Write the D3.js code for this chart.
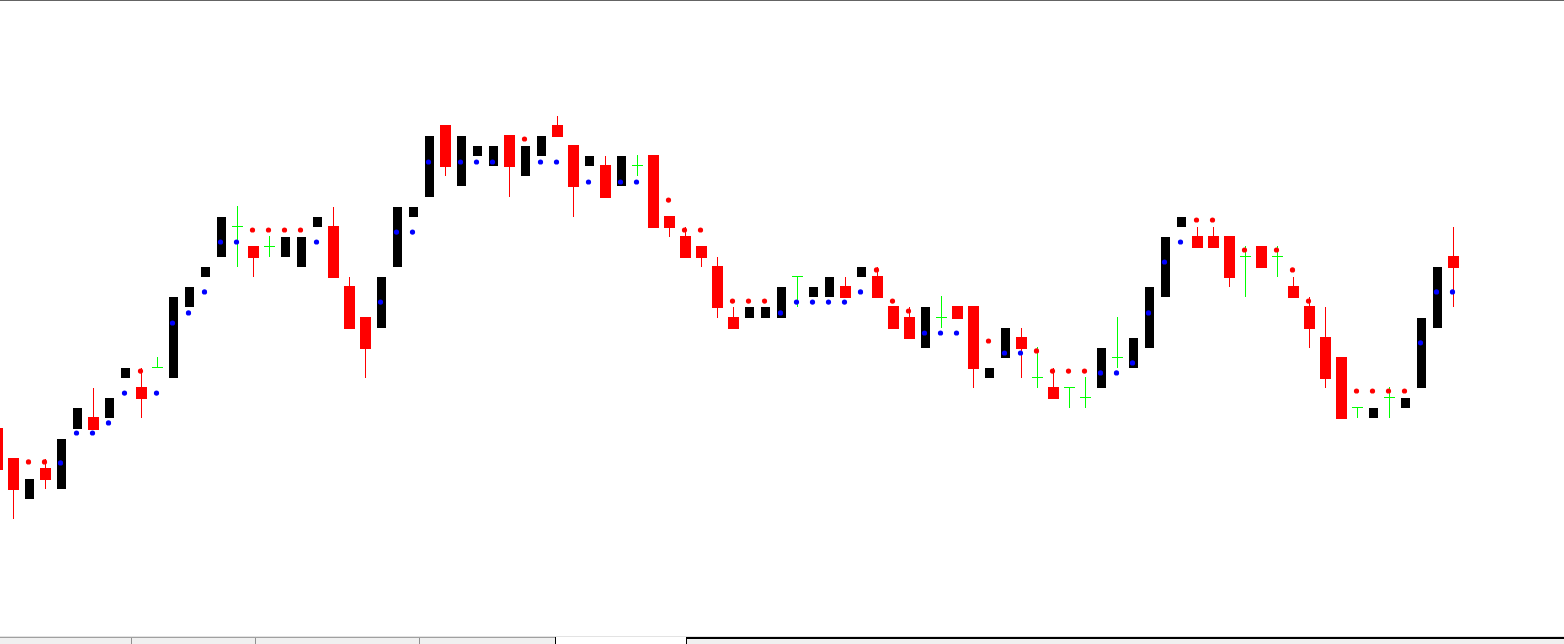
<!DOCTYPE html>
<html>
<head>
<meta charset="utf-8">
<script src="https://cdn.jsdelivr.net/npm/d3@7"></script>
<style>
  html, body { margin: 0; padding: 0; background: #ffffff; }
  svg { display: block; }
</style>
</head>
<body>
<svg id="chart" width="1564" height="644"></svg>
<script>
// ---- data (bar index, OHLC prices) ----
const barIndex = d3.range(-1, 91);
const open = [
  1.110,1.107,1.103,1.106,1.104,1.110,1.111,1.111,1.115,1.114,
  1.116,1.115,1.122,1.125,1.127,1.130,1.128,1.128,1.127,1.126,
  1.130,1.130,1.124,1.121,1.120,1.126,1.131,1.133,1.140,1.134,
  1.137,1.136,1.139,1.135,1.137,1.140,1.138,1.136,1.136,1.134,
  1.136,1.137,1.131,1.129,1.128,1.126,1.121,1.121,1.121,1.121,
  1.125,1.123,1.123,1.124,1.125,1.125,1.122,1.121,1.118,1.121,
  1.122,1.122,1.115,1.117,1.119,1.115,1.114,1.114,1.113,1.114,
  1.117,1.116,1.118,1.123,1.130,1.129,1.129,1.129,1.127,1.128,
  1.127,1.124,1.122,1.119,1.117,1.112,1.111,1.113,1.112,1.114,
  1.120,1.127
];
const high = [
  1.110,1.107,1.105,1.107,1.109,1.112,1.114,1.113,1.116,1.116,
  1.117,1.123,1.124,1.126,1.131,1.132,1.128,1.129,1.129,1.129,
  1.131,1.132,1.125,1.121,1.125,1.132,1.132,1.139,1.140,1.139,
  1.138,1.138,1.139,1.138,1.139,1.141,1.138,1.137,1.137,1.137,
  1.137,1.137,1.131,1.130,1.128,1.127,1.122,1.122,1.122,1.124,
  1.125,1.124,1.125,1.125,1.126,1.126,1.122,1.122,1.122,1.123,
  1.122,1.122,1.116,1.120,1.120,1.118,1.116,1.114,1.115,1.118,
  1.121,1.119,1.124,1.129,1.131,1.130,1.130,1.129,1.128,1.128,
  1.128,1.125,1.123,1.122,1.117,1.112,1.112,1.114,1.113,1.121,
  1.126,1.130
];
const low = [
  1.106,1.101,1.103,1.104,1.104,1.110,1.110,1.111,1.115,1.111,
  1.116,1.115,1.122,1.125,1.127,1.126,1.125,1.127,1.127,1.126,
  1.130,1.125,1.120,1.115,1.120,1.126,1.131,1.133,1.135,1.134,
  1.137,1.136,1.133,1.135,1.137,1.139,1.131,1.136,1.133,1.134,
  1.135,1.130,1.129,1.127,1.126,1.121,1.120,1.121,1.121,1.121,
  1.122,1.123,1.123,1.123,1.125,1.123,1.120,1.119,1.118,1.120,
  1.121,1.114,1.115,1.117,1.115,1.114,1.113,1.112,1.112,1.114,
  1.116,1.116,1.118,1.123,1.130,1.128,1.128,1.124,1.123,1.126,
  1.125,1.123,1.118,1.114,1.111,1.111,1.111,1.111,1.112,1.114,
  1.120,1.122
];
const close = [
  1.106,1.104,1.105,1.105,1.109,1.112,1.110,1.113,1.116,1.113,
  1.116,1.123,1.124,1.126,1.131,1.130,1.127,1.128,1.129,1.129,
  1.131,1.125,1.120,1.118,1.125,1.132,1.132,1.139,1.136,1.139,
  1.138,1.138,1.136,1.138,1.139,1.139,1.134,1.137,1.133,1.137,
  1.136,1.130,1.130,1.127,1.127,1.122,1.120,1.122,1.122,1.124,
  1.125,1.124,1.125,1.123,1.126,1.123,1.120,1.119,1.122,1.121,
  1.121,1.116,1.116,1.120,1.118,1.115,1.113,1.114,1.113,1.118,
  1.117,1.119,1.124,1.129,1.131,1.128,1.128,1.125,1.127,1.126,
  1.127,1.123,1.120,1.115,1.111,1.112,1.112,1.113,1.113,1.121,
  1.126,1.126
];
// indicator dots: [bar index, price]
const redDots = [
  [1,1.10669],[2,1.10669],[8,1.11570],[15,1.12968],[16,1.12968],[17,1.12968],[18,1.12968],
  [32,1.13870],[41,1.13265],[42,1.12968],[43,1.12968],[45,1.12264],[46,1.12264],[47,1.12264],
  [54,1.12572],[55,1.12264],[56,1.12165],[61,1.11868],[64,1.11769],[65,1.11570],[66,1.11570],
  [67,1.11570],[74,1.13067],[75,1.13067],[77,1.12770],[79,1.12770],[80,1.12572],[81,1.12264],
  [84,1.11372],[85,1.11372],[86,1.11372],[87,1.11372]
];
const blueDots = [
  [3,1.10659],[4,1.10956],[5,1.10956],[6,1.11056],[7,1.11352],[9,1.11352],[10,1.12046],
  [11,1.12146],[12,1.12354],[13,1.12849],[14,1.12849],[19,1.12849],[23,1.12254],[24,1.12948],
  [25,1.12948],[26,1.13642],[28,1.13642],[29,1.13642],[30,1.13642],[33,1.13642],[34,1.13642],
  [36,1.13444],[38,1.13444],[39,1.13444],[48,1.12146],[49,1.12254],[50,1.12254],[51,1.12254],
  [52,1.12254],[53,1.12354],[57,1.11947],[58,1.11947],[59,1.11947],[62,1.11749],[63,1.11749],
  [68,1.11551],[69,1.11551],[70,1.11650],[71,1.12146],[72,1.12651],[73,1.12849],[88,1.11850],
  [89,1.12354],[90,1.12354]
];
const tabSeparators = [131, 255, 419];

// ---- drawing ----
const W = 1564, H = 644;
const svg = d3.select("#chart");
const bars = barIndex.map((b, k) => ({b, o: open[k], h: high[k], l: low[k], c: close[k]}));

const x = d3.scaleBand().domain(barIndex).range([-10.5, -10.5 + barIndex.length * 16]);
const cx = b => x(b) + x.bandwidth() / 2;
const y = d3.scaleLinear().domain([1.140, 1.100]).range([125.9, 125.9 + 403.52]);
const ry = v => Math.round(y(v));

svg.append("rect").attr("width", W).attr("height", H).attr("fill", "#ffffff");
svg.append("rect").attr("x", 0).attr("y", 0).attr("width", W).attr("height", 1).attr("fill", "#646464");

const g = svg.append("g");
const EPS = 1e-9;
const isDoji = d => Math.abs(d.o - d.c) < EPS;
const isBear = d => d.c < d.o - EPS;
const isBull = d => d.c > d.o + EPS;

// wicks for bearish bars (red)
g.selectAll("line.wick").data(bars.filter(isBear)).join("line")
  .attr("class", "wick")
  .attr("x1", d => cx(d.b)).attr("x2", d => cx(d.b))
  .attr("y1", d => ry(d.h)).attr("y2", d => ry(d.l))
  .attr("stroke", "#ff0000").attr("stroke-width", 1);

// bearish bodies
g.selectAll("rect.bear").data(bars.filter(isBear)).join("rect")
  .attr("class", "bear")
  .attr("x", d => cx(d.b) - 5)
  .attr("width", 10)
  .attr("y", d => ry(d.o) - 0.5)
  .attr("height", d => ry(d.c) - ry(d.o) + 1)
  .attr("fill", "#ff0000").attr("stroke", "#ff0000").attr("stroke-width", 1);

// bullish bodies
g.selectAll("rect.bull").data(bars.filter(isBull)).join("rect")
  .attr("class", "bull")
  .attr("x", d => cx(d.b) - 4.5)
  .attr("width", 9)
  .attr("y", d => ry(d.c))
  .attr("height", d => ry(d.o) - ry(d.c))
  .attr("fill", "#000000");

// doji
const doji = bars.filter(isDoji);
g.selectAll("line.dv").data(doji).join("line")
  .attr("class", "dv")
  .attr("x1", d => cx(d.b)).attr("x2", d => cx(d.b))
  .attr("y1", d => ry(d.h) - 1).attr("y2", d => ry(d.l))
  .attr("stroke", "#00ff00").attr("stroke-width", 1);
g.selectAll("line.dh").data(doji).join("line")
  .attr("class", "dh")
  .attr("x1", d => cx(d.b) - 5.5).attr("x2", d => cx(d.b) + 5.5)
  .attr("y1", d => ry(d.o) - 0.5).attr("y2", d => ry(d.o) - 0.5)
  .attr("stroke", "#00ff00").attr("stroke-width", 1);

// indicator dots
g.selectAll("circle.rd").data(redDots).join("circle")
  .attr("class", "rd")
  .attr("cx", d => cx(d[0]) - 1).attr("cy", d => y(d[1]))
  .attr("r", 2.6).attr("fill", "#ff0000");
g.selectAll("circle.bd").data(blueDots).join("circle")
  .attr("class", "bd")
  .attr("cx", d => cx(d[0]) - 1).attr("cy", d => y(d[1]))
  .attr("r", 2.6).attr("fill", "#0000ff");

// bottom tab strip
const strip = svg.append("g");
strip.append("rect").attr("x", 0).attr("y", 636).attr("width", W).attr("height", 1).attr("fill", "#e3e3e3");
strip.append("rect").attr("x", 0).attr("y", 638).attr("width", 555).attr("height", 6).attr("fill", "#f0f0f0");
strip.append("rect").attr("x", 0).attr("y", 637).attr("width", 555).attr("height", 1).attr("fill", "#a0a0a0");
strip.selectAll("rect.sep").data(tabSeparators).join("rect")
  .attr("class", "sep").attr("x", d => d).attr("y", 638).attr("width", 1).attr("height", 6).attr("fill", "#909090");
strip.append("rect").attr("x", 555).attr("y", 637).attr("width", 1).attr("height", 7).attr("fill", "#000000");
strip.append("rect").attr("x", 686).attr("y", 637).attr("width", 1).attr("height", 7).attr("fill", "#000000");
strip.append("rect").attr("x", 686).attr("y", 637).attr("width", W - 686).attr("height", 2).attr("fill", "#000000");
strip.append("rect").attr("x", 687).attr("y", 639).attr("width", W - 687).attr("height", 5).attr("fill", "#f0f0f0");
</script>
</body>
</html>
